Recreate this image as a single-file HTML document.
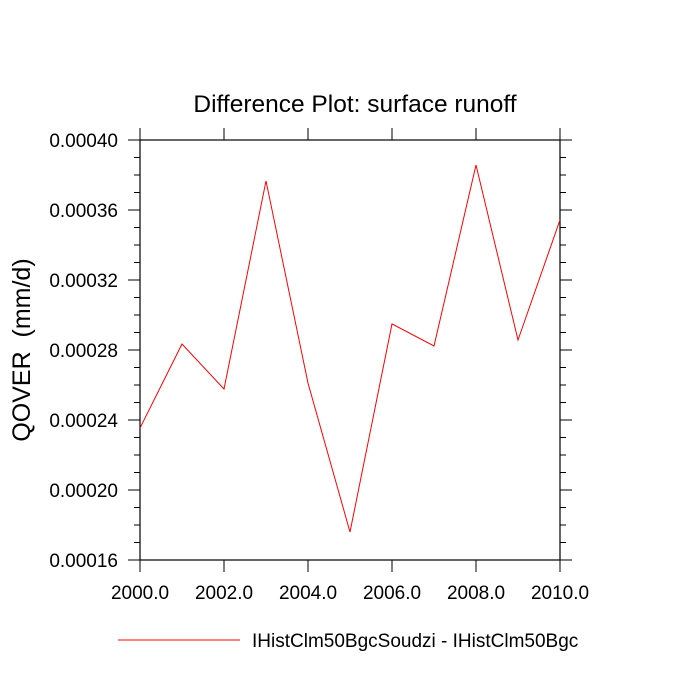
<!DOCTYPE html>
<html><head><meta charset="utf-8"><style>body{margin:0;background:#fff}svg{display:block}</style></head>
<body>
<svg id="chart" width="700" height="700" xmlns="http://www.w3.org/2000/svg" font-family="Liberation Sans, sans-serif">
<text x="355" y="112" text-anchor="middle" font-size="24.5">Difference Plot: surface runoff</text>
<text transform="translate(30,350) rotate(-90)" text-anchor="middle" font-size="25" xml:space="preserve">QOVER  (mm/d)</text>
<g id="axes"></g>
<g id="series"></g>
<line x1="118" y1="640" x2="240" y2="640" stroke="#ff0000" stroke-width="1"/>
<text x="252" y="647" font-size="19">IHistClm50BgcSoudzi - IHistClm50Bgc</text>
</svg>
<script>
const years = [2000,2001,2002,2003,2004,2005,2006,2007,2008,2009,2010];
const values = [0.0002354,0.0002834,0.0002577,0.0003766,0.0002611,0.000176,0.0002949,0.0002823,0.0003857,0.0002857,0.0003543];
const xTicks = [2000,2002,2004,2006,2008,2010];
const xTickLabels = ["2000.0","2002.0","2004.0","2006.0","2008.0","2010.0"];
const yTicks = [0.00016,0.00020,0.00024,0.00028,0.00032,0.00036,0.00040];
const yTickLabels = ["0.00016","0.00020","0.00024","0.00028","0.00032","0.00036","0.00040"];
const L=140,R=560,T=140,B=560;
const xs=v=>L+(v-2000)/10*(R-L);
const ys=v=>B-(v-0.00016)/0.00024*(B-T);
const NS="http://www.w3.org/2000/svg";
const ax=document.getElementById('axes');
function mk(tag,attrs,parent){const e=document.createElementNS(NS,tag);for(const k in attrs)e.setAttribute(k,attrs[k]);parent.appendChild(e);return e;}
const frame=mk('rect',{x:L,y:T,width:R-L,height:B-T,fill:'none',stroke:'#000','stroke-width':1.2},ax);


xTicks.forEach((v,i)=>{const x=xs(v);
 const t1=mk('line',{x1:x,y1:B,x2:x,y2:B+12,stroke:'#000'},ax);
 
 
 const t2=mk('line',{x1:x,y1:T,x2:x,y2:T-12,stroke:'#000'},ax);
 
 
 const lb=mk('text',{x:x,y:B+39,'text-anchor':'middle','font-size':19},ax);lb.textContent=xTickLabels[i];
 
 
});
yTicks.forEach((v,i)=>{const y=ys(v);
 const t1=mk('line',{x1:L,y1:y,x2:L-12,y2:y,stroke:'#000'},ax);
 
 
 const t2=mk('line',{x1:R,y1:y,x2:R+12,y2:y,stroke:'#000'},ax);
 
 
 const lb=mk('text',{x:118,y:y+7,'text-anchor':'end','font-size':19},ax);lb.textContent=yTickLabels[i];
 
 
 if(i<yTicks.length-1){for(let k=1;k<4;k++){const yy=ys(v+k*0.00001);
  const m1=mk('line',{x1:L,y1:yy,x2:L-6,y2:yy,stroke:'#000'},ax);
  
  
  const m2=mk('line',{x1:R,y1:yy,x2:R+6,y2:yy,stroke:'#000'},ax);
  
  }}
});
const pts=years.map((y,i)=>xs(y)+','+ys(values[i])).join(' ');
const line=mk('polyline',{points:pts,fill:'none',stroke:'#ff0000','stroke-width':1},document.getElementById('series'));


</script>
</body></html>
